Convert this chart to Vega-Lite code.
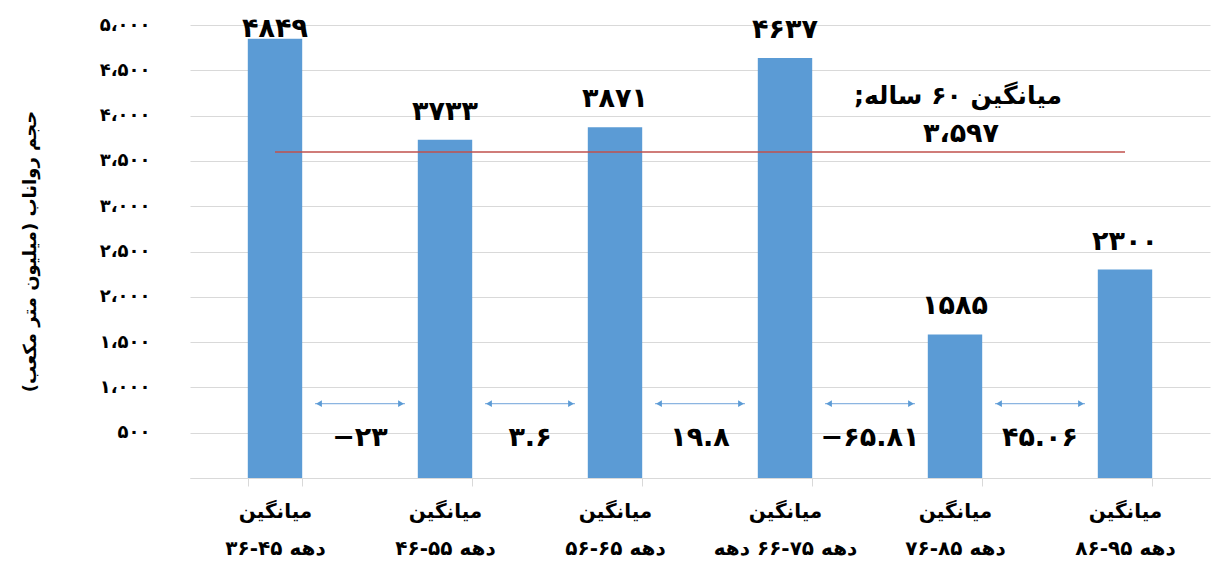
{
  "$schema": "https://vega.github.io/schema/vega-lite/v6.json",
  "width": 1020,
  "height": 453,
  "autosize": {"type": "none"},
  "padding": {"left": 190, "top": 25, "right": 1, "bottom": 98},
  "background": "white",
  "config": {
    "locale": {
      "number": {
        "decimal": ".",
        "thousands": "،",
        "grouping": [3],
        "currency": ["", ""],
        "numerals": ["۰", "۱", "۲", "۳", "۴", "۵", "۶", "۷", "۸", "۹"],
        "minus": "−"
      }
    },
    "view": {"stroke": null},
    "font": "DejaVu Sans",
    "axis": {"labelFont": "DejaVu Sans", "titleFont": "DejaVu Sans"}
  },
  "datasets": {
    "periods": [
      {"period": "دهه ۴۵-۳۶", "runoff": 4849},
      {"period": "دهه ۵۵-۴۶", "runoff": 3733},
      {"period": "دهه ۶۵-۵۶", "runoff": 3871},
      {"period": "دهه ۷۵-۶۶ دهه", "runoff": 4637},
      {"period": "دهه ۸۵-۷۶", "runoff": 1585},
      {"period": "دهه ۹۵-۸۶", "runoff": 2300}
    ],
    "changes": [
      {"from": "دهه ۴۵-۳۶", "to": "دهه ۵۵-۴۶", "change": -23},
      {"from": "دهه ۵۵-۴۶", "to": "دهه ۶۵-۵۶", "change": 3.6},
      {"from": "دهه ۶۵-۵۶", "to": "دهه ۷۵-۶۶ دهه", "change": 19.8},
      {"from": "دهه ۷۵-۶۶ دهه", "to": "دهه ۸۵-۷۶", "change": -65.81},
      {"from": "دهه ۸۵-۷۶", "to": "دهه ۹۵-۸۶", "change": 45.06}
    ],
    "average": [
      {"first": "دهه ۴۵-۳۶", "last": "دهه ۹۵-۸۶", "anchor": "دهه ۸۵-۷۶", "avg": 3597, "note": "میانگین ۶۰ ساله;‏"}
    ]
  },
  "layer": [
    {
      "data": {"name": "periods"},
      "mark": {"type": "bar", "color": "#5b9bd5"},
      "encoding": {
        "x": {
          "field": "period",
          "type": "nominal",
          "sort": null,
          "scale": {
            "domain": ["دهه ۴۵-۳۶", "دهه ۵۵-۴۶", "دهه ۶۵-۵۶", "دهه ۷۵-۶۶ دهه", "دهه ۸۵-۷۶", "دهه ۹۵-۸۶"],
            "paddingInner": 0.68,
            "paddingOuter": 0.34
          },
          "axis": {
            "title": null,
            "labelAngle": 0,
            "labelExpr": "datum.label ? ['میانگین', datum.label] : ''",
            "labelFontSize": 20,
            "labelFontWeight": "bold",
            "labelColor": "#000000",
            "labelLineHeight": 37,
            "labelBaseline": "top",
            "labelPadding": 15,
            "tickBand": "extent",
            "tickSize": 8,
            "tickColor": "#d9d9d9",
            "domainColor": "#d9d9d9"
          }
        },
        "y": {
          "field": "runoff",
          "type": "quantitative",
          "scale": {"domain": [0, 5000], "nice": false},
          "axis": {
            "values": [0, 500, 1000, 1500, 2000, 2500, 3000, 3500, 4000, 4500, 5000],
            "labelExpr": "datum.value == 0 ? '' : format(datum.value, ',')",
            "domain": false,
            "ticks": false,
            "gridColor": "#d9d9d9",
            "labelFontSize": 18,
            "labelFontWeight": "bold",
            "labelColor": "#000000",
            "labelPadding": 40,
            "title": "حجم رواناب (میلیون متر مکعب)‏",
            "titleFontSize": 18,
            "titleFontWeight": "bold",
            "titleColor": "#000000",
            "titleX": -160,
            "titleY": 226,
            "titleAngle": 270,
            "titleAlign": "center",
            "titleBaseline": "middle"
          }
        }
      }
    },
    {
      "data": {"name": "periods"},
      "transform": [{"calculate": "min(datum.runoff, 4650)", "as": "labelAt"}],
      "mark": {"type": "text", "dy": -28, "fontSize": 27, "fontWeight": "bold", "baseline": "middle", "color": "#000000"},
      "encoding": {
        "x": {"field": "period", "type": "nominal", "sort": null},
        "y": {"field": "labelAt", "type": "quantitative"},
        "text": {"field": "runoff", "type": "quantitative", "format": "d"}
      }
    },
    {
      "data": {"name": "average"},
      "mark": {"type": "rule", "color": "#c0504d", "strokeWidth": 1.5},
      "encoding": {
        "x": {"field": "first", "type": "nominal"},
        "x2": {"field": "last"},
        "y": {"field": "avg", "type": "quantitative"}
      }
    },
    {
      "data": {"name": "average"},
      "mark": {"type": "text", "dy": -18, "xOffset": 6, "fontSize": 27, "fontWeight": "bold", "baseline": "middle", "color": "#000000"},
      "encoding": {
        "x": {"field": "anchor", "type": "nominal"},
        "y": {"field": "avg", "type": "quantitative"},
        "text": {"field": "avg", "type": "quantitative", "format": ","}
      }
    },
    {
      "data": {"name": "average"},
      "mark": {"type": "text", "dy": -56, "xOffset": 3, "fontSize": 25, "fontWeight": "bold", "baseline": "middle", "color": "#000000"},
      "encoding": {
        "x": {"field": "anchor", "type": "nominal"},
        "y": {"field": "avg", "type": "quantitative"},
        "text": {"field": "note", "type": "nominal"}
      }
    },
    {
      "data": {"name": "changes"},
      "mark": {"type": "rule", "xOffset": 40, "x2Offset": -40, "color": "#6fa3da", "strokeWidth": 1},
      "encoding": {
        "x": {"field": "from", "type": "nominal"},
        "x2": {"field": "to"},
        "y": {"datum": 820, "type": "quantitative"}
      }
    },
    {
      "data": {"name": "changes"},
      "mark": {"type": "point", "shape": "triangle-left", "filled": true, "size": 45, "xOffset": 44, "color": "#5b9bd5", "opacity": 1},
      "encoding": {
        "x": {"field": "from", "type": "nominal"},
        "y": {"datum": 820, "type": "quantitative"}
      }
    },
    {
      "data": {"name": "changes"},
      "mark": {"type": "point", "shape": "triangle-right", "filled": true, "size": 45, "xOffset": -44, "color": "#5b9bd5", "opacity": 1},
      "encoding": {
        "x": {"field": "to", "type": "nominal"},
        "y": {"datum": 820, "type": "quantitative"}
      }
    },
    {
      "data": {"name": "changes"},
      "mark": {"type": "text", "xOffset": 85, "dy": 5, "fontSize": 27, "fontWeight": "bold", "baseline": "middle", "color": "#000000"},
      "encoding": {
        "x": {"field": "from", "type": "nominal"},
        "y": {"datum": 500, "type": "quantitative"},
        "text": {"field": "change", "type": "quantitative", "format": "~f"}
      }
    }
  ]
}
